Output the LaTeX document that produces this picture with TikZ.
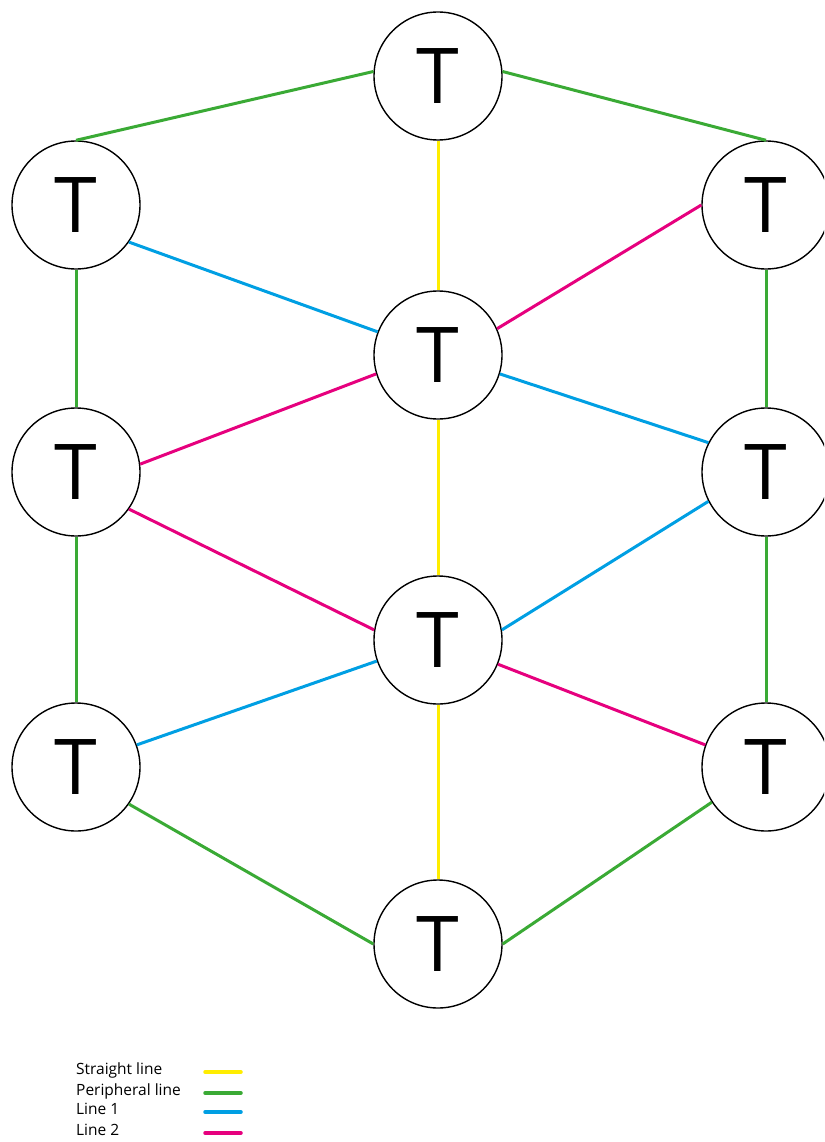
\documentclass[tikz,border=0pt]{standalone}
\usepackage{fontspec}
\setmainfont{Open Sans}
\definecolor{straightc}{HTML}{FFED00}
\definecolor{periphc}{HTML}{3AAA35}
\definecolor{onec}{HTML}{009FE3}
\definecolor{twoc}{HTML}{E6007E}
\tikzset{
  tnode/.style={circle, draw=black, line width=1.4pt, minimum size=128pt, inner sep=0pt, font=\fontsize{77}{77}\selectfont},
  straight/.style={straightc, line width=3pt},
  periph/.style={periphc, line width=3pt},
  lineone/.style={onec, line width=3pt},
  linetwo/.style={twoc, line width=3pt},
}
\begin{document}
\begin{tikzpicture}[x=1pt, y=-1pt, line join=round]
        \clip (0,0) rectangle (824,1142);
        \node[tnode] (T0) at (438,76) {T};
        \node[tnode] (L1) at (76,205) {T};
        \node[tnode] (R1) at (766,205) {T};
        \node[tnode] (C1) at (438,355) {T};
        \node[tnode] (L2) at (76,472) {T};
        \node[tnode] (R2) at (766,472) {T};
        \node[tnode] (C2) at (438,640) {T};
        \node[tnode] (L3) at (76,767) {T};
        \node[tnode] (R3) at (766,767) {T};
        \node[tnode] (B0) at (438,944) {T};
        
        % straight line
        \draw[straight] (T0.south)--(C1.north) (C1.south)--(C2.north) (C2.south)--(B0.north);
        % peripheral line
        \draw[periph] (T0.176)--(L1.north) (T0.4)--(R1.north);
        \draw[periph] (L1.south)--(L2.north) (L2.south)--(L3.north);
        \draw[periph] (R1.south)--(R2.north) (R2.south)--(R3.north);
        \draw[periph] (L3.-35)--(B0.west) (R3.213)--(B0.east);
        % line 1
        \draw[lineone] (L1.-35)--(C1.159) (C1.-17)--(R2.153);
        \draw[lineone] (R2.207)--(C2.9) (C2.199)--(L3.20);
        % line 2
        \draw[linetwo] (R1.west)--(C1.24) (C1.197)--(L2.7);
        \draw[linetwo] (L2.-35)--(C2.171) (C2.-22)--(R3.160);
        
        % legend
        \foreach \y/\txt/\sty in {1072/Straight line/straight, 1093/Peripheral line/periph, 1112/Line 1/lineone, 1133/Line 2/linetwo}
        {
            \node[anchor=base west, font=\fontsize{15.5}{15.5}\selectfont, inner sep=0pt] at (76,\y+2) {\txt};
            \draw[\sty, line width=3.5pt, line cap=round] (205,\y)--(241,\y);
        }
    \end{tikzpicture}
\end{document}
